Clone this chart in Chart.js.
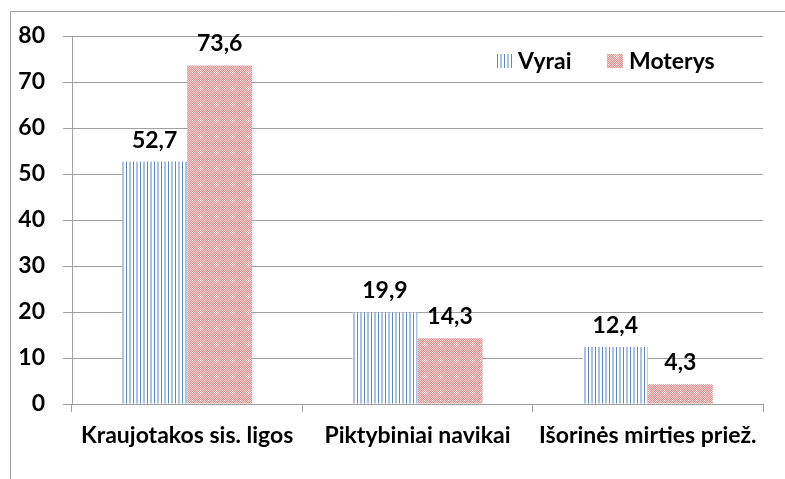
<!DOCTYPE html>
<html>
<head>
<meta charset="utf-8">
<script src="https://cdn.jsdelivr.net/npm/chart.js@4.4.1/dist/chart.umd.min.js"></script>
<style>
html,body{margin:0;padding:0;background:#fff;}
#wrap{position:relative;width:785px;height:479px;}
</style>
</head>
<body>
<div id="wrap"><canvas id="c" width="785" height="479"></canvas></div>
<script>
const categories = ['Kraujotakos sis. ligos', 'Piktybiniai navikai', 'Išorinės mirties priež.'];
const seriesNames = ['Vyrai', 'Moterys'];
const vyrai = [52.7, 19.9, 12.4];
const moterys = [73.6, 14.3, 4.3];
const yMin = 0, yMax = 80, yStep = 10;

const FAMILY = "Lato, 'Liberation Sans', sans-serif";
const FS = 23;

function stripePattern(){
  const c = document.createElement('canvas'); c.width = 7; c.height = 4;
  const x = c.getContext('2d');
  x.fillStyle = '#ffffff'; x.fillRect(0,0,7,4);
  x.fillStyle = '#5b87c6'; x.fillRect(0,0,1,4);
  x.fillStyle = '#a9c3e6'; x.fillRect(3,0,2,4);
  return x.createPattern(c, 'repeat');
}
function dotPattern(){
  const n = 16;
  const c = document.createElement('canvas'); c.width = n; c.height = n;
  const x = c.getContext('2d');
  const img = x.createImageData(n, n);
  for (let j = 0; j < n; j++) for (let i = 0; i < n; i++) {
    let r = 0xdb, g = 0x9a, b = 0x9a;
    const d = Math.abs(i - 8) + Math.abs(j - 8);
    if ((i + j) % 2 === 0) { r = 0xf0; g = 0xc8; b = 0xc8; }
    if (d <= 3 && (i + j) % 2 === 0) { r = 0xff; g = 0xf2; b = 0xf2; }
    if ((i === 8 && j === 8) || (i === 0 && j === 0) || (i === 0 && j === 8) || (i === 8 && j === 0)) { r = 0xff; g = 0xff; b = 0xff; }
    const k = (j * n + i) * 4;
    img.data[k] = r; img.data[k+1] = g; img.data[k+2] = b; img.data[k+3] = 255;
  }
  x.putImageData(img, 0, 0);
  return x.createPattern(c, 'repeat');
}
const fills = [stripePattern(), dotPattern()];

const framePlugin = {
  id: 'frame',
  beforeDraw(chart){
    const ctx = chart.ctx;
    ctx.save();
    ctx.strokeStyle = '#a0a0a0'; ctx.lineWidth = 1;
    ctx.beginPath();
    ctx.moveTo(10.5, 490); ctx.lineTo(10.5, 11.5); ctx.lineTo(800, 11.5);
    ctx.stroke();
    ctx.restore();
  }
};
const labelPlugin = {
  id: 'valueLabels',
  afterDatasetsDraw(chart){
    const ctx = chart.ctx;
    ctx.save();
    ctx.font = 'bold ' + FS + 'px ' + FAMILY;
    ctx.fillStyle = '#000';
    ctx.textAlign = 'center'; ctx.textBaseline = 'alphabetic';
    chart.data.datasets.forEach((ds, di) => {
      chart.getDatasetMeta(di).data.forEach((bar, i) => {
        const v = ds.data[i];
        ctx.fillText(String(v).replace('.', ','), bar.x, bar.y - 14);
      });
    });
    ctx.restore();
  }
};
const legendPlugin = {
  id: 'innerLegend',
  afterDraw(chart){
    const ctx = chart.ctx;
    ctx.save();
    ctx.font = 'bold ' + FS + 'px ' + FAMILY;
    ctx.textBaseline = 'middle'; ctx.textAlign = 'left';
    const items = [{x: 496, ds: 0}, {x: 607, ds: 1}];
    items.forEach(it => {
      const ds = chart.data.datasets[it.ds];
      ctx.fillStyle = ds.backgroundColor;
      ctx.fillRect(it.x, 54, 16, 14);
      ctx.fillStyle = '#000';
      ctx.fillText(ds.label, it.x + 22, 62);
    });
    ctx.restore();
  }
};

new Chart(document.getElementById('c'), {
  type: 'bar',
  data: {
    labels: categories,
    datasets: [
      { label: seriesNames[0], data: vyrai, backgroundColor: fills[0], borderWidth: 0 },
      { label: seriesNames[1], data: moterys, backgroundColor: fills[1], borderWidth: 0 }
    ]
  },
  options: {
    responsive: false,
    animation: false,
    devicePixelRatio: 1,
    layout: { padding: { left: 0, right: 22, top: 36, bottom: 0 } },
    datasets: { bar: { barPercentage: 1, categoryPercentage: 0.565 } },
    plugins: { legend: { display: false }, tooltip: { enabled: false } },
    scales: {
      x: {
        offset: true,
        grid: { drawOnChartArea: false, drawTicks: true, tickLength: 8, color: '#a0a0a0', offset: true },
        border: { color: '#a0a0a0' },
        ticks: { color: '#000', padding: 10, maxRotation: 0, autoSkip: false, font: { family: FAMILY, size: FS, weight: 'bold' } },
        afterFit(s){ s.height = 75; }
      },
      y: {
        min: yMin, max: yMax,
        ticks: { stepSize: yStep, color: '#000', padding: 18, font: { family: FAMILY, size: FS, weight: 'bold' } },
        grid: { color: '#a0a0a0', tickLength: 9, drawTicks: true },
        border: { color: '#a0a0a0' },
        afterFit(s){ s.width = 72; }
      }
    }
  },
  plugins: [framePlugin, labelPlugin, legendPlugin]
});
</script>
</body>
</html>
